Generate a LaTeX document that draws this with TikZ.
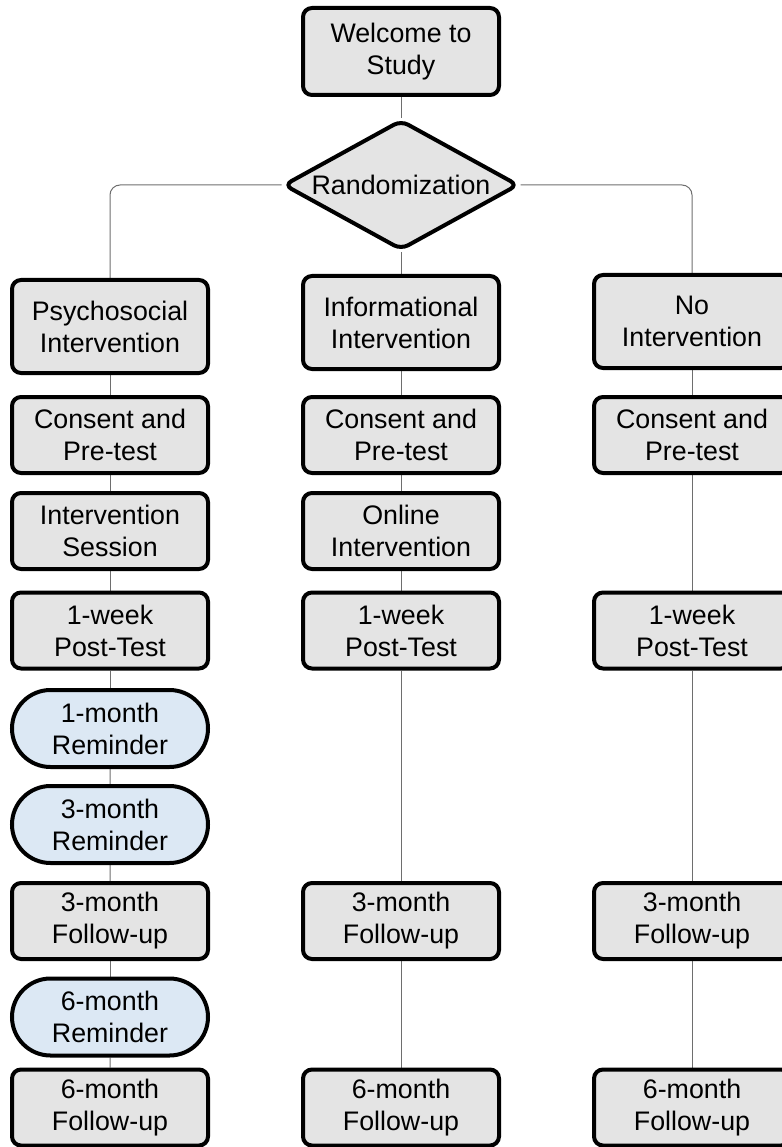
\documentclass[tikz,border=0pt]{standalone}
\usepackage{fontspec}
\setmainfont{Liberation Sans}
\usetikzlibrary{shapes.geometric,shapes.misc,backgrounds}
\definecolor{boxgray}{RGB}{228,228,228}
\definecolor{remblue}{RGB}{220,232,244}
\definecolor{linkgray}{RGB}{110,110,110}

\begin{document}
\begin{tikzpicture}[x=1pt,y=-1pt,font=\fontsize{26.8}{32}\selectfont,
  box/.style={draw,line width=4pt,rounded corners=9pt,fill=boxgray,align=center,inner sep=0pt,minimum width=196pt,minimum height=76pt},
  tallbox/.style={box,minimum height=93pt},
  remind/.style={draw,line width=4pt,rounded rectangle,fill=remblue,align=center,inner sep=0pt,minimum width=196pt,minimum height=77pt},
  link/.style={draw=linkgray,line width=1pt}]
\useasboundingbox (0,0) rectangle (781,1147);

\node[box,minimum height=87pt] (welcome) at (401,51.5) {Welcome to\\Study};
\node[draw,diamond,aspect=1.8,line width=4pt,fill=boxgray,inner sep=0pt,minimum width=235pt,minimum height=130pt,rounded corners=8pt] (rand) at (401,185) {Randomization};

% three arms
\node[tallbox] (psych) at (110,326.5) {Psychosocial\\Intervention};
\node[tallbox] (info) at (401,322.5) {Informational\\Intervention};
\node[tallbox] (none) at (692,321.5) {No\\Intervention};

\foreach \col/\x in {A/110,B/401,C/692}{
  \node[box] (con\col) at (\x,435) {Consent and\\Pre-test};
  \node[box] (week\col) at (\x,630.5) {1-week\\Post-Test};
  \node[box] (three\col) at (\x,921) {3-month\\Follow-up};
  \node[box] (six\col) at (\x,1107.5) {6-month\\Follow-up};
}
\node[box] (session) at (110,531) {Intervention\\Session};
\node[box] (online) at (401,531) {Online\\Intervention};

% reminders (psychosocial arm only)
\node[remind] (remA) at (110,728.5) {1-month\\Reminder};
\node[remind] (remB) at (110,824.5) {3-month\\Reminder};
\node[remind] (remC) at (110,1017) {6-month\\Reminder};

\begin{scope}[on background layer]
\draw[link] (welcome) -- (rand);
\draw[link] (rand) -- (info);
\draw[link,rounded corners=10pt] (rand.west) -| (psych.north);
\draw[link,rounded corners=10pt] (rand.east) -| (none.north);
\foreach \a/\b in {psych/conA,conA/session,session/weekA,weekA/remA,remA/remB,remB/threeA,threeA/remC,remC/sixA,
  info/conB,conB/online,online/weekB,weekB/threeB,threeB/sixB,
  none/conC,conC/weekC,weekC/threeC,threeC/sixC}
  \draw[link] (\a) -- (\b);
\end{scope}
\end{tikzpicture}
\end{document}
